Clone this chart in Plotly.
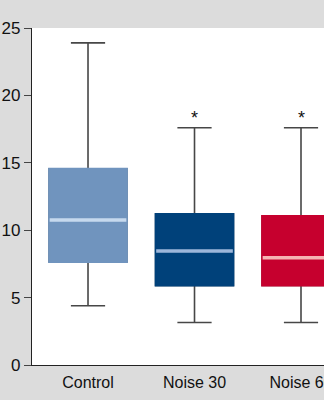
import plotly.graph_objects as go

categories = ["Control", "Noise 30", "Noise 60"]
lower = [4.4, 3.15, 3.15]
q1 = [7.65, 5.9, 5.9]
median = [10.75, 8.45, 7.95]
q3 = [14.55, 11.2, 11.05]
upper = [23.9, 17.6, 17.6]
significant = [False, True, True]
box_colors = ["#7094be", "#00417a", "#c6002e"]
median_colors = ["#c6d9ee", "#9cb6da", "#f6b3b3"]
y_ticks = [0, 5, 10, 15, 20, 25]

FONT = "Liberation Sans Narrow, Arial Narrow, Liberation Sans, Arial, sans-serif"
WHISKER = "#474747"
BOXW = 0.73

fig = go.Figure()
for i, c in enumerate(categories):
    # whiskers + caps
    fig.add_trace(go.Box(
        x=[c], q1=[q1[i]], median=[median[i]], q3=[q3[i]],
        lowerfence=[lower[i]], upperfence=[upper[i]],
        width=BOXW, whiskerwidth=0.44,
        line=dict(color=WHISKER, width=1.6), fillcolor=box_colors[i],
        boxpoints=False, showlegend=False, hoverinfo="skip"))
    # solid box without outline
    fig.add_trace(go.Box(
        x=[c], q1=[q1[i]], median=[median[i]], q3=[q3[i]],
        lowerfence=[q1[i]], upperfence=[q3[i]],
        width=BOXW, whiskerwidth=0,
        line=dict(color=box_colors[i], width=2), fillcolor=box_colors[i],
        boxpoints=False, showlegend=False, hoverinfo="skip"))
    # light median band
    fig.add_trace(go.Box(
        x=[c], q1=[median[i]], median=[median[i]], q3=[median[i]],
        lowerfence=[median[i]], upperfence=[median[i]],
        width=BOXW - 0.01, whiskerwidth=0,
        line=dict(color=median_colors[i], width=3.5), fillcolor=median_colors[i],
        boxpoints=False, showlegend=False, hoverinfo="skip"))
    if significant[i]:
        fig.add_annotation(x=c, y=upper[i], text="*", showarrow=False,
                           yanchor="middle", yshift=10,
                           font=dict(family=FONT, size=18, color="#111111"))

fig.update_layout(
    width=324, height=400,
    margin=dict(l=32, r=0, t=28, b=35, autoexpand=False),
    paper_bgcolor="#dcdcdc", plot_bgcolor="#ffffff",
    boxmode="overlay",
    font=dict(family=FONT, size=16, color="#111111"),
    xaxis=dict(type="category", categoryorder="array", categoryarray=categories,
               range=[-0.526, 2.216], showgrid=False, zeroline=False,
               automargin=False, ticklabelstandoff=3,
               showline=True, linecolor="#222222", linewidth=1.3,
               ticks="", tickfont=dict(family=FONT, size=16)),
    yaxis=dict(range=[0, 25], tickvals=y_ticks, showgrid=False, zeroline=False,
               automargin=False,
               showline=True, linecolor="#222222", linewidth=1.3,
               ticks="outside", ticklen=7, tickwidth=1.2, tickcolor="#444444",
               tickfont=dict(family=FONT, size=17)),
)

fig.write_html("out.html")
